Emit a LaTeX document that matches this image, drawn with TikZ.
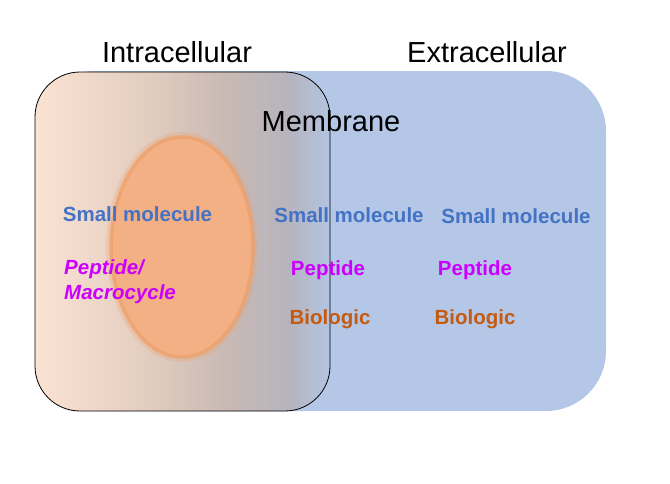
\documentclass[tikz,border=0pt]{standalone}
\usepackage{fontspec}
\setmainfont{Liberation Sans}
\usepackage{tikz}
\definecolor{cellblue}{HTML}{B4C7E7}
\definecolor{molblue}{HTML}{4472C4}
\definecolor{pepmag}{HTML}{CC00FF}
\definecolor{bioorange}{HTML}{C55A11}
\definecolor{vesicle}{HTML}{F2B084}
\definecolor{vesedge}{HTML}{EE9F68}
\usetikzlibrary{positioning}
\pgfdeclarehorizontalshading{membranegrad}{100bp}{
  rgb(0bp)=(0.984,0.890,0.827);
  rgb(25bp)=(0.984,0.890,0.827);
  rgb(43bp)=(0.894,0.808,0.753);
  rgb(58bp)=(0.784,0.725,0.706);
  rgb(68bp)=(0.714,0.706,0.745);
  rgb(75bp)=(0.702,0.769,0.886);
  rgb(100bp)=(0.702,0.769,0.886)}

\begin{document}
\begin{tikzpicture}[x=1pt, y=-1pt,
    region/.style={font=\fontsize{29}{32}\selectfont, text=black},
    drug/.style={font=\fontsize{20.5}{25}\selectfont\bfseries, text=#1, inner sep=0pt}
]
    \useasboundingbox (0,0) rectangle (670,483);

    % Extracellular space
    \fill[cellblue, rounded corners=60pt] (35,71) rectangle (606,411);

    % Intracellular space with membrane gradient
    \shade[shading=membranegrad, rounded corners=45pt] (35,72) rectangle (330,411);
    \draw[black, line width=0.8pt, rounded corners=45pt] (35,72) rectangle (330,411);

    % Vesicle
    \draw[vesedge, line width=8pt, opacity=0.25] (182,247) ellipse (72 and 111);
    \draw[vesedge, line width=3.5pt, opacity=0.7, fill=vesicle, fill opacity=1] (182,247) ellipse (71 and 110);

    % Headings
    \node[region] (intra) at (177,52) {Intracellular};
    \node[region] (extra) at (487,52) {Extracellular};
    \node[region] (membrane) at (331,121) {Membrane};

    % Intracellular modalities
    \node[drug=molblue] (smallin) at (137.5,214) {Small molecule};
    \node[drug=pepmag, font=\fontsize{20.5}{25}\selectfont\bfseries\itshape, align=left, anchor=west] (pepin) at (64,281.5) {Peptide/\\Macrocycle};

    % Membrane modalities
    \node[drug=molblue] (smallmem) at (349,215) {Small molecule};
    \node[drug=pepmag] (pepmem) at (328,270) {Peptide};
    \node[drug=bioorange] (biomem) at (330,319) {Biologic};

    % Extracellular modalities
    \node[drug=molblue] (smallex) at (516,216) {Small molecule};
    \node[drug=pepmag] (pepex) at (475,270) {Peptide};
    \node[drug=bioorange] (bioex) at (475,319) {Biologic};
\end{tikzpicture}
\end{document}
